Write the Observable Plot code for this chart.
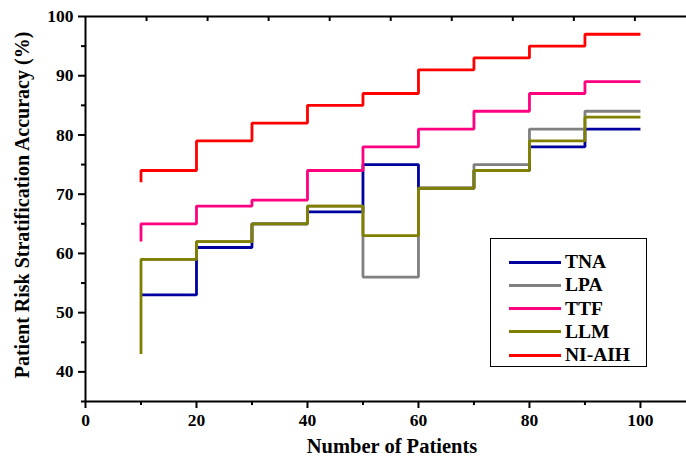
<!DOCTYPE html>
<html>
<head>
<meta charset="utf-8">
<script src="https://cdn.jsdelivr.net/npm/d3@7"></script>
<script src="https://cdn.jsdelivr.net/npm/@observablehq/plot@0.6"></script>
<style>
  html, body { margin: 0; padding: 0; background: #fff; }
  #wrap { position: relative; width: 686px; height: 457px; overflow: hidden; }
  #legend {
    position: absolute; left: 490px; top: 238px; width: 155px; height: 127px;
    border: 1.3px solid #000; background: #fff; box-sizing: content-box;
    font-family: "Liberation Serif", serif; font-weight: bold; font-size: 19.5px;
  }
  .row { position: absolute; left: 18px; height: 20px; display: flex; align-items: center; }
  .swatch { width: 52px; height: 3px; margin-right: 4px; }
</style>
</head>
<body>
<div id="wrap"></div>
<script>
// Number of patients (x) — steps drawn "step-before": the first value is the start of the line at x=10,
// each later value is the level on the interval ending at that x.
const patients = [10, 20, 30, 40, 50, 60, 70, 80, 90, 100];
const TNA    = [53, 53, 61, 65, 67, 75, 71, 74, 78, 81];
const LPA    = [59, 59, 62, 65, 68, 56, 71, 75, 81, 84];
const TTF    = [62, 65, 68, 69, 74, 78, 81, 84, 87, 89];
const LLM    = [43, 59, 62, 65, 68, 63, 71, 74, 79, 83];
const NIAIH  = [72, 74, 79, 82, 85, 87, 91, 93, 95, 97];

const seriesNames = ["TNA", "LPA", "TTF", "LLM", "NI-AIH"];
const seriesValues = [TNA, LPA, TTF, LLM, NIAIH];
const seriesColors = ["#0000a0", "#808080", "#ff0080", "#808000", "#ff0000"];

const xMajorTicks = [0, 20, 40, 60, 80, 100];
const xMinorTicks = [10, 30, 50, 70, 90];
const yMajorTicks = [40, 50, 60, 70, 80, 90, 100];
const yMinorTicks = [35, 45, 55, 65, 75, 85, 95];
const topTicks = [11, 22, 33, 44, 55, 66, 77, 88, 99];

const xTitle = "Number of Patients";
const yTitle = "Patient Risk Stratification Accuracy (%)";

const data = seriesNames.flatMap((s, i) =>
  seriesValues[i].map((v, j) => ({series: s, patients: patients[j], acc: v}))
);

const noLabel = () => "";
const H = 457, MT = 16, MB = 56;

const chart = Plot.plot({
  width: 686,
  height: H,
  marginLeft: 85,
  marginRight: 0,
  marginTop: MT,
  marginBottom: MB,
  style: {fontFamily: "'Liberation Serif', serif", fontWeight: "bold", fontSize: "17.5px", color: "#000", background: "#fff"},
  x: {domain: [0, 108.3]},
  y: {domain: [35, 100]},
  color: {domain: seriesNames, range: seriesColors},
  marks: [
    Plot.line(data, {x: "patients", y: "acc", z: "series", stroke: "series", curve: "step-before", strokeWidth: 2.8, strokeLinejoin: "miter", strokeLinecap: "butt"}),
    Plot.ruleX([0], {strokeWidth: 2}),
    Plot.ruleY([35], {strokeWidth: 2}),
    Plot.ruleY([100], {strokeWidth: 2}),
    Plot.axisY(yMajorTicks, {tickSize: 7, tickPadding: 5, strokeWidth: 2, label: null, fontSize: 17.5}),
    Plot.axisY(yMinorTicks, {tickSize: 4, strokeWidth: 2, label: null, tickFormat: noLabel}),
    Plot.axisX(xMajorTicks, {tickSize: 7, tickPadding: 5, strokeWidth: 2, label: null, fontSize: 17.5}),
    Plot.axisX(xMinorTicks, {tickSize: 4, strokeWidth: 2, label: null, tickFormat: noLabel}),
    Plot.ruleX(topTicks, {strokeWidth: 2, insetBottom: H - MT - MB - 5}),
    Plot.text([yTitle], {frameAnchor: "left", textAnchor: "middle", rotate: -90, dx: -63, dy: -4, fontSize: 20, fontWeight: "bold"}),
    Plot.text([xTitle], {frameAnchor: "bottom", textAnchor: "middle", lineAnchor: "middle", dy: 45, dx: 6, fontSize: 20.5, fontWeight: "bold"})
  ]
});

const wrap = document.getElementById("wrap");
wrap.appendChild(chart);

const legend = document.createElement("div");
legend.id = "legend";
seriesNames.forEach((s, i) => {
  const row = document.createElement("div");
  row.className = "row";
  row.style.top = (13 + i * 23.3) + "px";
  const sw = document.createElement("div");
  sw.className = "swatch";
  sw.style.background = seriesColors[i];
  const lab = document.createElement("span");
  lab.textContent = s;
  row.appendChild(sw);
  row.appendChild(lab);
  legend.appendChild(row);
});
wrap.appendChild(legend);
</script>
</body>
</html>
